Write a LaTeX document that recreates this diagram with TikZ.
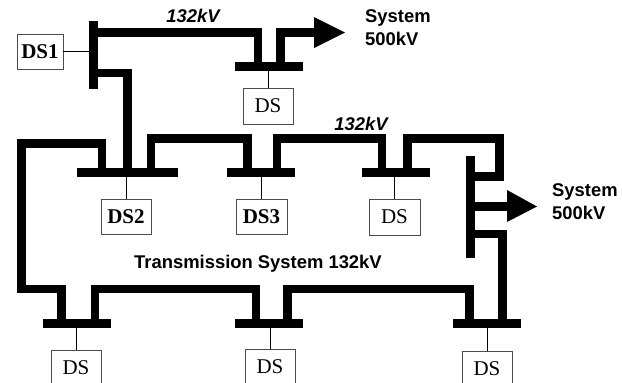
\documentclass[tikz,border=0pt]{standalone}
\usepackage{fontspec}
\setmainfont{Liberation Serif}
\setsansfont{Liberation Sans}
\tikzset{
  x=1pt,y=-1pt,
  line/.style={line width=8.6pt,line cap=butt,line join=miter},
  bus/.style={fill=black,draw=none,minimum height=9pt,inner sep=0pt,outer sep=0pt},
  ds/.style={draw=black!70,line width=0.8pt,fill=white,inner sep=0pt,font=\fontsize{21}{21}\selectfont},
  dsb/.style={ds,font=\fontsize{21}{21}\selectfont\bfseries},
  tap/.style={black,line width=0.7pt},
  lab/.style={font=\fontsize{18.4}{23}\selectfont\sffamily\bfseries,inner sep=0pt,align=left},
  vlab/.style={font=\fontsize{18.4}{18.4}\selectfont\sffamily\bfseries\itshape,inner sep=0pt},
  head/.style={fill=black,draw=none},
}
\newcommand{\busat}[4]{\node[bus,minimum width=#4] (#1) at (#2,#3) {};}
\newcommand{\dsat}[7]{\node[#7,minimum width=#5,minimum height=#6] (#1) at (#2,#3) {#4};}
\begin{document}
\begin{tikzpicture}
\useasboundingbox (0,0) rectangle (622,383);
% buses
\node[bus,minimum width=9pt,minimum height=68pt] (b1) at (93.5,55) {};
\node[bus,minimum width=9pt,minimum height=102pt] (bR) at (470.5,207) {};
\busat{t}{269}{66.5}{68pt}
\busat{a}{127.5}{172.5}{101pt}
\busat{b}{261}{172.5}{68pt}
\busat{c}{396}{172.5}{68pt}
\busat{d}{77}{323.5}{68pt}
\busat{e}{269}{323.5}{68pt}
\busat{f}{487}{323.5}{68pt}
% coordinates
\coordinate (hd1) at (314,32.5);
\coordinate (tip1) at (345,32.5);
\coordinate (hd2) at (507,206.5);
\coordinate (tip2) at (537,206.5);
% arrowheads
\fill[head] (314,17) -- (tip1) -- (314,48) -- cycle;
\fill[head] (hd2|-0,190) -- (tip2) -- (hd2|-0,222) -- cycle;
% feeders
\draw[line] (b1.east|-0,32.5) -- (258,32.5) -- (258,62);
\draw[line] (280.5,62) -- (280.5,32.5) -- (hd1);
\draw[line] (b1.east|-0,73) -- (127.5,73) -- (127.5,168);
\draw[line] (102,168) -- (102,143.5) -- (21.5,143.5) -- (21.5,289) -- (61.5,289) -- (61.5,319);
\draw[line] (151,168) -- (151,138.5) -- (247.5,138.5) -- (247.5,168);
\draw[line] (277,168) -- (277,138.5) -- (382,138.5) -- (382,168);
\draw[line] (407.5,168) -- (407.5,138.5) -- (499.5,138.5) -- (499.5,176.5) -- (bR.east|-0,176.5);
\draw[line] (bR.east|-0,206.5) -- (hd2);
\draw[line] (bR.east|-0,234) -- (502.5,234) -- (502.5,319);
\draw[line] (95,319) -- (95,289) -- (256,289) -- (256,319);
\draw[line] (287.5,319) -- (287.5,289) -- (469.5,289) -- (469.5,319);
% DS boxes
\dsat{ds1}{40}{51.5}{DS1}{46pt}{35pt}{dsb}
\dsat{dst}{268}{106}{DS}{50pt}{36pt}{ds}
\dsat{ds2}{126}{216.5}{DS2}{50pt}{35pt}{dsb}
\dsat{ds3}{261.5}{216.5}{DS3}{51pt}{35pt}{dsb}
\dsat{dsc}{394.5}{217}{DS}{51pt}{36pt}{ds}
\dsat{dsd}{76}{368}{DS}{50pt}{36pt}{ds}
\dsat{dse}{270}{367}{DS}{50pt}{36pt}{ds}
\dsat{dsf}{487}{369}{DS}{50pt}{36pt}{ds}
% taps
\draw[tap] (ds1.east) -- (b1.west|-ds1.east);
\draw[tap] (t.south-|dst) -- (dst.north);
\draw[tap] (a.south-|ds2) -- (ds2.north);
\draw[tap] (b.south-|ds3) -- (ds3.north);
\draw[tap] (c.south-|dsc) -- (dsc.north);
\draw[tap] (d.south-|dsd) -- (dsd.north);
\draw[tap] (e.south-|dse) -- (dse.north);
\draw[tap] (f.south-|dsf) -- (dsf.north);
% labels
\node[vlab] (v1) at (193,16) {132kV};
\node[vlab] (v2) at (361,124) {132kV};
\node[lab,anchor=west] (s1) at (365,28) {System\\500kV};
\node[lab,anchor=west] (s2) at (552,202) {System\\500kV};
\node[lab] (tr) at (258,264) {Transmission System 132kV};
\end{tikzpicture}
\end{document}
